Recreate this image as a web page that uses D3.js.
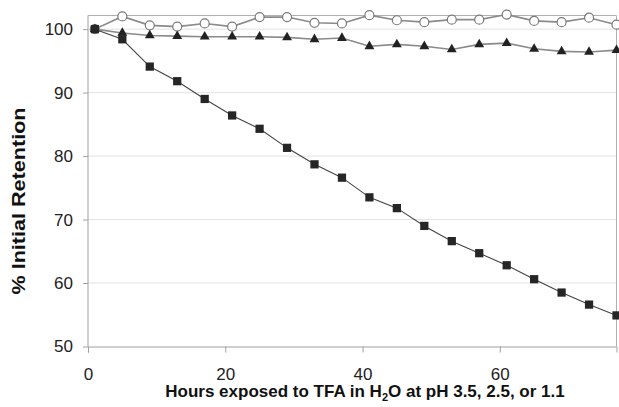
<!DOCTYPE html>
<html>
<head>
<meta charset="utf-8">
<script src="https://cdn.jsdelivr.net/npm/d3@7"></script>
<style>
body { margin: 0; background: #fff; }
text { font-family: "Liberation Sans", Arial, sans-serif; }
</style>
</head>
<body>
<script>
var margin = {top: 15.5, right: 2.5, bottom: 60.5, left: 88};
var width = 619 - margin.left - margin.right;
var height = 407 - margin.top - margin.bottom;

// hours of exposure
var hours = [1, 5, 9, 13, 17, 21, 25, 29, 33, 37, 41, 45, 49, 53, 57, 61, 65, 69, 73, 77];
// pH 3.5 (open circles)
var ph35 = [100, 102.0, 100.6, 100.4, 100.9, 100.4, 101.9, 101.9, 101.0, 100.9, 102.2, 101.4, 101.1, 101.5, 101.5, 102.3, 101.3, 101.1, 101.8, 100.7];
// pH 2.5 (triangles)
var ph25 = [100, 99.4, 99.0, 98.9, 98.8, 98.8, 98.8, 98.7, 98.4, 98.6, 97.3, 97.6, 97.3, 96.8, 97.6, 97.8, 96.9, 96.5, 96.4, 96.7];
// pH 1.1 (squares)
var ph11 = [100, 98.4, 94.1, 91.8, 89.0, 86.4, 84.3, 81.3, 78.7, 76.6, 73.5, 71.8, 69.0, 66.6, 64.7, 62.8, 60.6, 58.5, 56.6, 54.9];

var xTicks = [0, 20, 40, 60];
var yTicks = [50, 60, 70, 80, 90, 100];

var svg = d3.select("body").append("svg")
    .attr("width", 619)
    .attr("height", 407);

var g = svg.append("g")
    .attr("transform", "translate(" + margin.left + "," + margin.top + ")");

var xScale = d3.scaleLinear().domain([0, 77]).range([0, width]);
var yScale = d3.scaleLinear().domain([50, 102.15]).range([height, 0]);

// gridlines
g.selectAll(".grid")
    .data(yTicks.filter(function(d){ return d > 50; }))
    .enter()
    .append("line")
    .attr("x1", 0)
    .attr("x2", width)
    .attr("y1", function(d){ return yScale(d); })
    .attr("y2", function(d){ return yScale(d); })
    .attr("stroke", "#e2e2e2")
    .attr("stroke-width", 1);

// frame top & right
g.append("line").attr("x1", 0).attr("x2", width).attr("y1", 0).attr("y2", 0)
    .attr("stroke", "#b0b0b0");
g.append("line").attr("x1", width).attr("x2", width).attr("y1", 0).attr("y2", height)
    .attr("stroke", "#b0b0b0");

// axes
var xAxis = d3.axisBottom(xScale).tickValues(xTicks).tickSize(6).tickPadding(15);
var yAxis = d3.axisLeft(yScale).tickValues(yTicks).tickSize(5).tickPadding(10);

var xAxisGroup = g.append("g")
    .attr("transform", "translate(0," + height + ")")
    .call(xAxis);
var yAxisGroup = g.append("g").call(yAxis);

[xAxisGroup, yAxisGroup].forEach(function(ax){
    ax.select(".domain").attr("stroke", "#a0a0a0");
    ax.selectAll(".tick line").attr("stroke", "#a0a0a0");
    ax.selectAll(".tick text")
        .attr("fill", "#222")
        .style("font-size", "17px")
        .style("font-family", "'Liberation Sans', Arial, sans-serif");
});
// y axis domain runs to plot top
yAxisGroup.select(".domain").attr("d", "M0," + height + "V0");

var line = d3.line()
    .x(function(d){ return xScale(d[0]); })
    .y(function(d){ return yScale(d[1]); });

function pairs(vals) {
    return hours.map(function(h, i){ return [h, vals[i]]; });
}

// pH 3.5 circles
g.append("path")
    .datum(pairs(ph35))
    .attr("d", line)
    .attr("fill", "none")
    .attr("stroke", "#8a8a8a")
    .attr("stroke-width", 1.6);
g.selectAll(".circ")
    .data(pairs(ph35))
    .enter()
    .append("circle")
    .attr("cx", function(d){ return xScale(d[0]); })
    .attr("cy", function(d){ return yScale(d[1]); })
    .attr("r", 4.5)
    .attr("fill", "#fff")
    .attr("stroke", "#7a7a7a")
    .attr("stroke-width", 1.2);

// pH 2.5 triangles
g.append("path")
    .datum(pairs(ph25))
    .attr("d", line)
    .attr("fill", "none")
    .attr("stroke", "#8a8a8a")
    .attr("stroke-width", 1.6);
g.selectAll(".tri")
    .data(pairs(ph25))
    .enter()
    .append("path")
    .attr("d", d3.symbol().type(d3.symbolTriangle).size(42))
    .attr("transform", function(d){ return "translate(" + xScale(d[0]) + "," + yScale(d[1]) + ")"; })
    .attr("fill", "#222");

// pH 1.1 squares
g.append("path")
    .datum(pairs(ph11))
    .attr("d", line)
    .attr("fill", "none")
    .attr("stroke", "#444")
    .attr("stroke-width", 1.1);
g.selectAll(".sq")
    .data(pairs(ph11))
    .enter()
    .append("path")
    .attr("d", d3.symbol().type(d3.symbolSquare).size(68))
    .attr("transform", function(d){ return "translate(" + xScale(d[0]) + "," + yScale(d[1]) + ")"; })
    .attr("fill", "#262626");

// axis titles
var xt = svg.append("text")
    .attr("x", 365)
    .attr("y", 397)
    .attr("text-anchor", "middle")
    .attr("fill", "#111")
    .style("font-size", "17px")
    .style("font-weight", "bold");
xt.append("tspan").text("Hours exposed to TFA in H");
xt.append("tspan").attr("dy", 4).style("font-size", "11px").text("2");
xt.append("tspan").attr("dy", -4).text("O at pH 3.5, 2.5, or 1.1");

svg.append("text")
    .attr("transform", "translate(18.5,201) rotate(-90)")
    .attr("text-anchor", "middle")
    .attr("dominant-baseline", "central")
    .attr("fill", "#111")
    .attr("textLength", 187)
    .attr("lengthAdjust", "spacingAndGlyphs")
    .style("font-size", "18px")
    .style("font-weight", "bold")
    .text("% Initial Retention");
</script>
</body>
</html>
